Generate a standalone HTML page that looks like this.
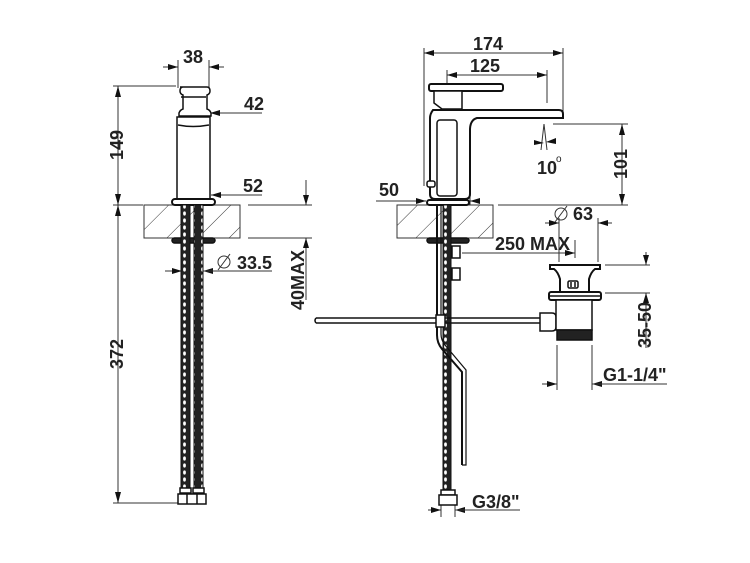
<!DOCTYPE html>
<html><head><meta charset="utf-8"><style>
html,body{margin:0;padding:0;background:#fff}
svg{display:block}
text{font-family:"Liberation Sans",Arial,sans-serif;font-weight:bold;fill:#222;font-size:18px}
</style></head><body>
<svg width="750" height="563" viewBox="0 0 750 563" xmlns="http://www.w3.org/2000/svg">
<defs>
<pattern id="hatch" patternUnits="userSpaceOnUse" width="22" height="22" patternTransform="rotate(45)">
<line x1="0" y1="0" x2="0" y2="22" stroke="#333" stroke-width="1"/>
</pattern>
<pattern id="hose" patternUnits="userSpaceOnUse" width="9" height="7">
<rect width="9" height="7" fill="#222"/>
<ellipse cx="4.5" cy="3.5" rx="1.4" ry="2.1" fill="#fff"/>
</pattern>
<marker id="ar" viewBox="0 0 10 6" refX="10" refY="3" markerWidth="12" markerHeight="6" orient="auto" markerUnits="userSpaceOnUse">
<path d="M0,0 L10,3 L0,6 z" fill="#111"/>
</marker>
</defs>
<g stroke="#333" stroke-width="1" fill="none">
<line x1="178" y1="60" x2="178" y2="88"/><line x1="209" y1="60" x2="209" y2="88"/>
<line x1="163" y1="67" x2="178" y2="67" marker-end="url(#ar)"/>
<line x1="224" y1="67" x2="209" y2="67" marker-end="url(#ar)"/>
<line x1="113" y1="86" x2="176" y2="86"/>
<line x1="118" y1="86" x2="118" y2="503"/>
<path d="M118,86 l-3,11 h6z M118,205 l-3,-11 h6z M118,205 l-3,11 h6z M118,503 l-3,-11 h6z" fill="#111" stroke="none"/>
<line x1="262" y1="113" x2="210" y2="113" marker-end="url(#ar)"/>
<line x1="262" y1="195" x2="211" y2="195" marker-end="url(#ar)"/>
<line x1="113" y1="205" x2="143" y2="205"/><line x1="248" y1="205" x2="312" y2="205"/>
<line x1="248" y1="238" x2="312" y2="238"/>
<line x1="306" y1="180" x2="306" y2="205" marker-end="url(#ar)"/>
<line x1="306" y1="255" x2="306" y2="238" marker-end="url(#ar)"/>
<line x1="306" y1="255" x2="306" y2="300"/>
<line x1="113" y1="503" x2="178" y2="503"/>
<line x1="182" y1="245" x2="182" y2="275"/><line x1="203" y1="245" x2="203" y2="275"/>
<line x1="165" y1="271" x2="182" y2="271" marker-end="url(#ar)"/>
<line x1="222" y1="271" x2="203" y2="271" marker-end="url(#ar)"/>
<line x1="203" y1="271" x2="272" y2="271"/>
<circle cx="224" cy="262" r="6"/><line x1="218" y1="270" x2="230" y2="254"/>
<rect x="144" y="205" width="96" height="33" fill="url(#hatch)" stroke="#333"/>
<g stroke="#111" stroke-width="1.5">
<path d="M180,87 h27 q3,0 3,4 q0,3 -3,4 v14 q3,1 4,4 v3 h-32 v-3 q1,-3 4,-4 v-14 q-3,-1 -3,-4 q0,-4 3,-4z" fill="#fff"/>
<line x1="181" y1="97" x2="206" y2="97"/>
<rect x="177" y="117" width="33" height="82" fill="#fff"/>
<path d="M178,125 q15,3 31,0"/>
<rect x="172" y="199" width="43" height="6" rx="3" fill="#fff" stroke-width="2"/>
<rect x="172" y="238" width="43" height="5" rx="2.5" fill="#222"/>
</g>
<rect x="181" y="205" width="9" height="283" fill="url(#hose)" stroke="#111"/>
<rect x="194" y="205" width="9" height="283" fill="url(#hose)" stroke="#111"/>
<g stroke="#111" stroke-width="1.5" fill="#fff">
<rect x="180" y="488" width="11" height="5"/><rect x="193" y="488" width="11" height="5"/>
<rect x="178" y="494" width="28" height="10"/><line x1="187" y1="494" x2="187" y2="504"/><line x1="197" y1="494" x2="197" y2="504"/>
</g>
<line x1="424" y1="48" x2="424" y2="186"/><line x1="563" y1="48" x2="563" y2="118"/>
<line x1="440" y1="53" x2="424" y2="53" marker-end="url(#ar)"/><line x1="440" y1="53" x2="547" y2="53"/>
<line x1="547" y1="53" x2="563" y2="53" marker-end="url(#ar)"/>
<line x1="447" y1="70" x2="447" y2="108"/><line x1="547" y1="70" x2="547" y2="103"/>
<line x1="447" y1="75" x2="547" y2="75"/>
<line x1="460" y1="75" x2="447" y2="75" marker-end="url(#ar)"/><line x1="535" y1="75" x2="547" y2="75" marker-end="url(#ar)"/>
<line x1="553" y1="124" x2="628" y2="124"/><line x1="498" y1="205" x2="628" y2="205"/>
<line x1="622" y1="124" x2="622" y2="205"/>
<path d="M622,124 l-3,11 h6z M622,205 l-3,-11 h6z" fill="#111" stroke="none"/>
<line x1="544" y1="124" x2="547" y2="150"/><line x1="544" y1="124" x2="541" y2="150"/>
<path d="M534,140 l10,3 l-10,2z M556,138 l-10,4 l10,2z" fill="#111" stroke="none"/>
<line x1="376" y1="201" x2="426" y2="201"/>
<line x1="412" y1="201" x2="426" y2="201" marker-end="url(#ar)"/>
<line x1="480" y1="201" x2="470" y2="201" marker-end="url(#ar)"/>
<line x1="470" y1="193" x2="470" y2="205"/>
<rect x="397" y="205" width="96" height="33" fill="url(#hatch)" stroke="#333"/>
<line x1="559" y1="218" x2="559" y2="262"/><line x1="598" y1="218" x2="598" y2="262"/>
<line x1="545" y1="223" x2="559" y2="223" marker-end="url(#ar)"/>
<line x1="612" y1="223" x2="598" y2="223" marker-end="url(#ar)"/>
<circle cx="561" cy="214" r="6"/><line x1="555" y1="222" x2="567" y2="206"/>
<line x1="462" y1="253" x2="575" y2="253" marker-end="url(#ar)"/>
<line x1="575" y1="240" x2="575" y2="258"/>
<line x1="605" y1="265" x2="650" y2="265"/><line x1="605" y1="293" x2="650" y2="293"/>
<line x1="646" y1="252" x2="646" y2="265" marker-end="url(#ar)"/>
<line x1="646" y1="306" x2="646" y2="293" marker-end="url(#ar)"/>
<line x1="646" y1="306" x2="646" y2="348"/>
<line x1="557" y1="345" x2="557" y2="390"/><line x1="592" y1="345" x2="592" y2="390"/>
<line x1="542" y1="384" x2="557" y2="384" marker-end="url(#ar)"/>
<line x1="606" y1="384" x2="592" y2="384" marker-end="url(#ar)"/>
<line x1="592" y1="384" x2="667" y2="384"/>
<line x1="441" y1="505" x2="441" y2="517"/><line x1="455" y1="505" x2="455" y2="517"/>
<line x1="428" y1="510" x2="441" y2="510" marker-end="url(#ar)"/>
<line x1="468" y1="510" x2="455" y2="510" marker-end="url(#ar)"/>
<line x1="455" y1="510" x2="520" y2="510"/>
</g>
<g stroke="#111" stroke-width="1.5" fill="#fff">
<rect x="429" y="84" width="74" height="7" rx="2" stroke-width="2"/>
<path d="M434,91 h28 v18 h-20 l-8,-6z"/>
<path d="M433,110 h126 q4,0 4,4 v4 h-86 q-7,2 -7,12 v64 q0,5 -5,5 h-30 q-5,0 -5,-5 v-76 q0,-4 3,-8z" stroke-width="2"/>
<rect x="437" y="120" width="20" height="76" rx="3"/>
<rect x="427" y="181" width="8" height="6" rx="2"/>
<rect x="427" y="200" width="42" height="5" rx="2.5" stroke-width="2"/>
<rect x="427" y="238" width="42" height="5" rx="2.5" fill="#222"/>
</g>
<rect x="443" y="205" width="8" height="285" fill="url(#hose)" stroke="#111"/>
<g stroke="#111" stroke-width="1.5" fill="#fff">
<path d="M437,205 V335 q0,8 5,14 L462,372 V465" fill="none" stroke-width="2"/>
<path d="M441,205 V334 q0,6 4,11 L466,370 V465 h-4" fill="none" stroke-width="1.2"/>
<rect x="452" y="246" width="8" height="12"/><rect x="452" y="268" width="8" height="12"/>
<line x1="316" y1="318" x2="540" y2="318"/><line x1="316" y1="323" x2="540" y2="323"/>
<path d="M316,318 q-2,2.5 0,5"/>
<rect x="436" y="315" width="9" height="12"/>
<path d="M540,313 h12 q4,0 4,4 v10 q0,4 -4,4 h-12z"/>
<rect x="441" y="490" width="14" height="5"/>
<rect x="439" y="495" width="18" height="10"/>
<path d="M550,265 h50 v4 h-5 q-4,3 -6,10 v13 h-29 v-13 q-2,-7 -6,-10 h-4z" stroke-width="2"/>
<rect x="568" y="281" width="10" height="7" rx="1.5"/>
<line x1="571" y1="282" x2="571" y2="287"/><line x1="575" y1="282" x2="575" y2="287"/>
<rect x="549" y="292" width="52" height="8" rx="2" stroke-width="2"/>
<line x1="549" y1="296" x2="601" y2="296"/>
<rect x="556" y="300" width="36" height="30"/>
<rect x="557" y="330" width="35" height="10" fill="#222"/>
</g>
<text x="193" y="63" text-anchor="middle">38</text>
<text x="244" y="110">42</text>
<text x="243" y="192">52</text>
<text x="237" y="269">33.5</text>
<text transform="translate(123,145) rotate(-90)" text-anchor="middle">149</text>
<text transform="translate(123,354) rotate(-90)" text-anchor="middle">372</text>
<text transform="translate(304,280) rotate(-90)" text-anchor="middle">40MAX</text>
<text x="488" y="50" text-anchor="middle">174</text>
<text x="485" y="72" text-anchor="middle">125</text>
<text x="537" y="174">10</text><text x="556" y="162" style="font-size:10px;font-weight:normal">o</text>
<text transform="translate(627,164) rotate(-90)" text-anchor="middle">101</text>
<text x="379" y="196">50</text>
<text x="573" y="220">63</text>
<text x="495" y="250">250 MAX</text>
<text transform="translate(651,325) rotate(-90)" text-anchor="middle">35-50</text>
<text x="603" y="381">G1-1/4"</text>
<text x="472" y="508">G3/8"</text>
</svg>
</body></html>
